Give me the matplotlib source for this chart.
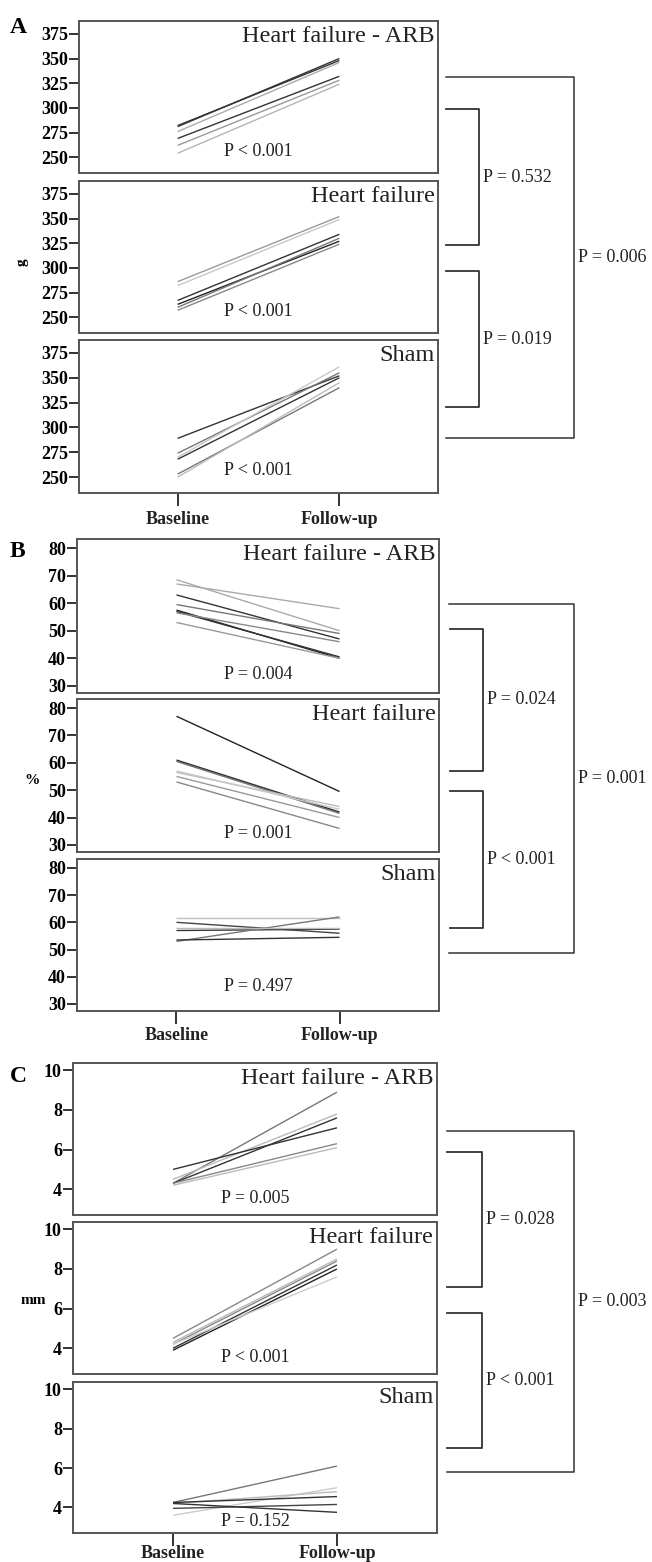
import matplotlib
matplotlib.use("Agg")
import matplotlib.pyplot as plt
from matplotlib.lines import Line2D

plt.rcParams['font.family'] = ['Liberation Serif', 'DejaVu Serif']

W, H = 652, 1562

groups = ["Heart failure - ARB", "Heart failure", "Sham"]
timepoints = ["Baseline", "Follow-up"]

# panel A: body weight (g), each pair = (baseline, follow-up), with a grey level
weight_arb = [(281, 350), (282, 348), (276, 346), (269, 332), (262, 328), (254, 324)]
weight_hf = [(286, 352), (282, 349), (267, 334), (263, 327), (260, 330), (257, 324)]
weight_sham = [(289, 352), (274, 355), (268, 350), (253, 340), (250, 345), (270, 361)]
weight_shade = [["#333333", "#333333", "#aaaaaa", "#333333", "#999999", "#b5b5b5"],
                ["#9a9a9a", "#c8c8c8", "#333333", "#222222", "#777777", "#888888"],
                ["#333333", "#777777", "#333333", "#777777", "#bbbbbb", "#c8c8c8"]]

# panel B: ejection fraction (%)
ef_arb = [(68.5, 50), (67, 58), (63, 47), (59.5, 49), (57.5, 40), (57, 40.5), (56.5, 46), (53, 40)]
ef_hf = [(77, 49.5), (60.5, 41.5), (61, 42), (56.5, 44), (55, 40), (53, 36), (57, 43)]
ef_sham = [(61.5, 61.5), (60, 56), (57, 57.5), (53, 62), (53.5, 54.5), (58, 58)]
ef_shade = [["#aaaaaa", "#aaaaaa", "#333333", "#777777", "#222222", "#333333", "#888888", "#999999"],
            ["#222222", "#777777", "#333333", "#bbbbbb", "#999999", "#888888", "#c8c8c8"],
            ["#c0c0c0", "#444444", "#333333", "#777777", "#333333", "#bbbbbb"]]

# panel C: LV diameter (mm)
lv_arb = [(4.3, 8.9), (4.5, 7.8), (4.3, 7.6), (5.0, 7.1), (4.3, 6.3), (4.2, 6.1)]
lv_hf = [(4.5, 9.0), (4.3, 8.5), (4.2, 8.4), (4.0, 8.2), (3.9, 8.0), (4.2, 7.6)]
lv_sham = [(4.25, 6.1), (3.6, 5.0), (4.2, 4.8), (4.25, 4.55), (3.95, 4.15), (4.2, 3.75)]
lv_shade = [["#777777", "#bbbbbb", "#333333", "#333333", "#888888", "#bbbbbb"],
            ["#888888", "#bbbbbb", "#888888", "#333333", "#222222", "#cccccc"],
            ["#777777", "#cccccc", "#bbbbbb", "#333333", "#444444", "#333333"]]

p_within = [["P < 0.001", "P < 0.001", "P < 0.001"],
            ["P = 0.004", "P = 0.001", "P = 0.497"],
            ["P = 0.005", "P < 0.001", "P = 0.152"]]
p_between = [["P = 0.532", "P = 0.019", "P = 0.006"],
             ["P = 0.024", "P < 0.001", "P = 0.001"],
             ["P = 0.028", "P < 0.001", "P = 0.003"]]

panels = [
    dict(letter="A", data=[weight_arb, weight_hf, weight_sham], shade=weight_shade,
         ylim=(234, 388), yticks=[250, 275, 300, 325, 350, 375],
         left=79, right=438, rows=[(21, 173), (181, 333), (340, 493)],
         ptext_y=[0.14, 0.14, 0.15], letter_y=33, xlab_y=520,
         unit="g", unit_xy=(22, 262), unit_rot=90,
         br=[(109, 245, 446, 479), (271, 407, 446, 479), (77, 438, 446, 574)]),
    dict(letter="B", data=[ef_arb, ef_hf, ef_sham], shade=ef_shade,
         ylim=(27.4, 83.3), yticks=[30, 40, 50, 60, 70, 80],
         left=77, right=439, rows=[(539, 693), (699, 852), (859, 1011)],
         ptext_y=[0.12, 0.12, 0.16], letter_y=557, xlab_y=1036,
         unit="%", unit_xy=(32, 780), unit_rot=0,
         br=[(629, 771, 450, 483), (791, 928, 450, 483), (604, 953, 449, 574)]),
    dict(letter="C", data=[lv_arb, lv_hf, lv_sham], shade=lv_shade,
         ylim=(2.7, 10.37), yticks=[4, 6, 8, 10],
         left=73, right=437, rows=[(1063, 1215), (1222, 1374), (1382, 1533)],
         ptext_y=[0.11, 0.11, 0.075], letter_y=1082, xlab_y=1553,
         unit="mm", unit_xy=(33, 1300), unit_rot=0,
         br=[(1152, 1287, 447, 482), (1313, 1448, 447, 482), (1131, 1472, 447, 574)]),
]

fig = plt.figure(figsize=(W / 100, H / 100), dpi=100)
frame = "#555555"

for pi, pan in enumerate(panels):
    for gi, (top, bot) in enumerate(pan["rows"]):
        ax = fig.add_axes([pan["left"] / W, 1 - bot / H,
                           (pan["right"] - pan["left"]) / W, (bot - top) / H])
        for (b, f), c in zip(pan["data"][gi], pan["shade"][gi]):
            ax.plot([0, 1], [b, f], color=c, lw=1.0, solid_capstyle="butt")
        ax.set_xlim(-0.61, 1.61)
        ax.set_ylim(*pan["ylim"])
        ax.set_yticks(pan["yticks"])
        ax.tick_params(axis="y", direction="out", length=7, width=1.4, color="#333333",
                       pad=1, labelsize=13)
        for lab in ax.get_yticklabels():
            lab.set_fontweight("bold")
        if gi == 2:
            ax.set_xticks([0, 1])
            ax.set_xticklabels([])
            ax.tick_params(axis="x", direction="out", length=9, width=1.4, color="#333333")
        else:
            ax.set_xticks([])
        for s in ax.spines.values():
            s.set_color(frame)
            s.set_linewidth(1.4)
        ax.text(0.99, 0.97, groups[gi], transform=ax.transAxes, ha="right", va="top",
                fontsize=17.5, color="#222222")
        ax.text(0.5, pan["ptext_y"][gi], p_within[pi][gi], transform=ax.transAxes,
                ha="center", va="center", fontsize=13, color="#222222")

    fig.text(10 / W, 1 - pan["letter_y"] / H, pan["letter"], fontsize=17,
             fontweight="bold", ha="left", va="baseline")
    # x labels under the bottom sub-plot
    x0 = pan["left"] + (pan["right"] - pan["left"]) * 0.61 / 2.22
    x1 = pan["left"] + (pan["right"] - pan["left"]) * 1.61 / 2.22
    for xx, lab in zip([x0, x1], timepoints):
        fig.text(xx / W, 1 - pan["xlab_y"] / H, lab, fontsize=13, fontweight="bold",
                 ha="center", va="center", color="#222222")
    ux, uy = pan["unit_xy"]
    fig.text(ux / W, 1 - uy / H, pan["unit"], fontsize=11, fontweight="bold",
             rotation=pan["unit_rot"], ha="center", va="center")

    # brackets comparing groups
    for k, (ytop, ybot, xl, xr) in enumerate(pan["br"]):
        xs = [xl, xr, xr, xl]
        ys = [ytop, ytop, ybot, ybot]
        fig.add_artist(Line2D([x / W for x in xs], [1 - y / H for y in ys],
                              color="#333333", lw=1.3 if k < 2 else 1.1))
        fig.text((xr + 4) / W, 1 - ((ytop + ybot) / 2) / H, p_between[pi][k],
                 fontsize=13, ha="left", va="center", color="#222222")

fig.savefig("out.png", dpi=100, facecolor="white")
